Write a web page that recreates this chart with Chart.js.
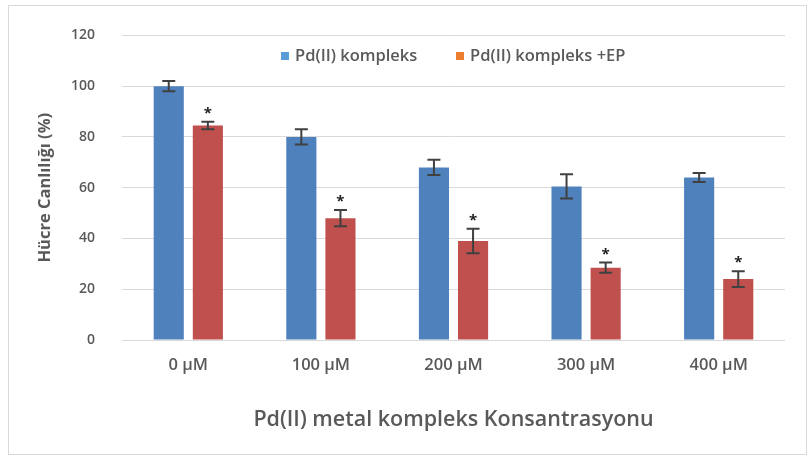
<!DOCTYPE html>
<html><head><meta charset="utf-8">
<script src="https://cdn.jsdelivr.net/npm/chart.js@4.4.0/dist/chart.umd.min.js"></script>
<style>html,body{margin:0;padding:0;background:#fff}#w{width:809px;height:457px;position:relative}</style>
</head><body><div id="w"><canvas id="c" width="809" height="457"></canvas></div>
<script>
const categories = ['0 µM','100 µM','200 µM','300 µM','400 µM'];
const seriesNames = ['Pd(II) kompleks','Pd(II) kompleks +EP'];
const pdValues = [100, 80, 68, 60.5, 64];
const pdErrors = [2, 3, 3, 4.8, 1.8];
const pdEpValues = [84.5, 48, 39, 28.5, 24];
const pdEpErrors = [1.5, 3.2, 4.8, 2, 3.1];
const pdEpSignificant = [true, true, true, true, true];
const yTicks = [0, 20, 40, 60, 80, 100, 120];
const yTitle = 'Hücre Canlılığı (%)';
const xTitle = 'Pd(II) metal kompleks Konsantrasyonu';

const TXT = '#595959';
const FONT = '"Open Sans", sans-serif';

const extras = {
  id: 'extras',
  afterDatasetsDraw(chart) {
    const ctx = chart.ctx, y = chart.scales.y;
    const errs = [pdErrors, pdEpErrors];
    ctx.save();
    chart.data.datasets.forEach((ds, di) => {
      const meta = chart.getDatasetMeta(di);
      meta.data.forEach((bar, i) => {
        const v = ds.data[i], e = errs[di][i];
        const yt = y.getPixelForValue(v + e), yb = y.getPixelForValue(v - e);
        ctx.strokeStyle = '#404040';
        ctx.lineWidth = 2;
        ctx.beginPath();
        ctx.moveTo(bar.x, yt); ctx.lineTo(bar.x, yb);
        ctx.moveTo(bar.x - 6.5, yt); ctx.lineTo(bar.x + 6.5, yt);
        ctx.moveTo(bar.x - 6.5, yb); ctx.lineTo(bar.x + 6.5, yb);
        ctx.stroke();
        if (di === 1 && pdEpSignificant[i]) {
          ctx.fillStyle = '#202020';
          ctx.font = 'bold 15px ' + FONT;
          ctx.textAlign = 'center';
          ctx.textBaseline = 'middle';
          ctx.fillText('*', bar.x, yt - 8);
        }
      });
    });
    // legend
    const items = [{c:'#5B9BD5', t:seriesNames[0], x:281}, {c:'#ED7D31', t:seriesNames[1], x:456}];
    ctx.font = '600 16.5px ' + FONT;
    ctx.textAlign = 'left';
    ctx.textBaseline = 'middle';
    items.forEach(it => {
      ctx.fillStyle = it.c;
      ctx.fillRect(it.x, 52, 8, 8);
      ctx.fillStyle = TXT;
      ctx.fillText(it.t, it.x + 14, 56);
    });
    // frame
    ctx.strokeStyle = '#d9d9d9';
    ctx.lineWidth = 1;
    ctx.strokeRect(8.5, 5.5, 798, 449);
    ctx.restore();
  }
};

new Chart(document.getElementById('c'), {
  type: 'bar',
  data: {
    labels: categories,
    datasets: [
      { label: seriesNames[0], data: pdValues, backgroundColor: '#4F81BD', barPercentage: 0.77, categoryPercentage: 0.59 },
      { label: seriesNames[1], data: pdEpValues, backgroundColor: '#C0504D', barPercentage: 0.77, categoryPercentage: 0.59 }
    ]
  },
  options: {
    responsive: false,
    animation: false,
    layout: { padding: { top: 31, right: 24, left: 0, bottom: 0 } },
    plugins: { legend: { display: false }, tooltip: { enabled: false } },
    scales: {
      x: {
        grid: { display: false, drawTicks: false },
        border: { display: false },
        ticks: { color: TXT, font: { family: FONT, size: 16.5, weight: '600' }, padding: 15 },
        title: { display: true, text: xTitle, color: TXT, font: { family: FONT, size: 21.5, weight: '600' }, padding: { top: 0, bottom: 24 } },
        afterFit(s) { s.height = 117; }
      },
      y: {
        min: 0, max: 120,
        afterBuildTicks(s) { s.ticks = yTicks.map(v => ({ value: v })); },
        grid: { color: '#d9d9d9', drawTicks: false },
        border: { display: false },
        ticks: { color: TXT, font: { family: FONT, size: 14, weight: '600' }, padding: 27 },
        title: { display: true, text: yTitle, color: TXT, font: { family: FONT, size: 16.5, weight: 'bold' }, padding: { top: 35, bottom: 0 } },
        afterFit(s) { s.width = 122; }
      }
    }
  },
  plugins: [extras]
});
</script></body></html>
